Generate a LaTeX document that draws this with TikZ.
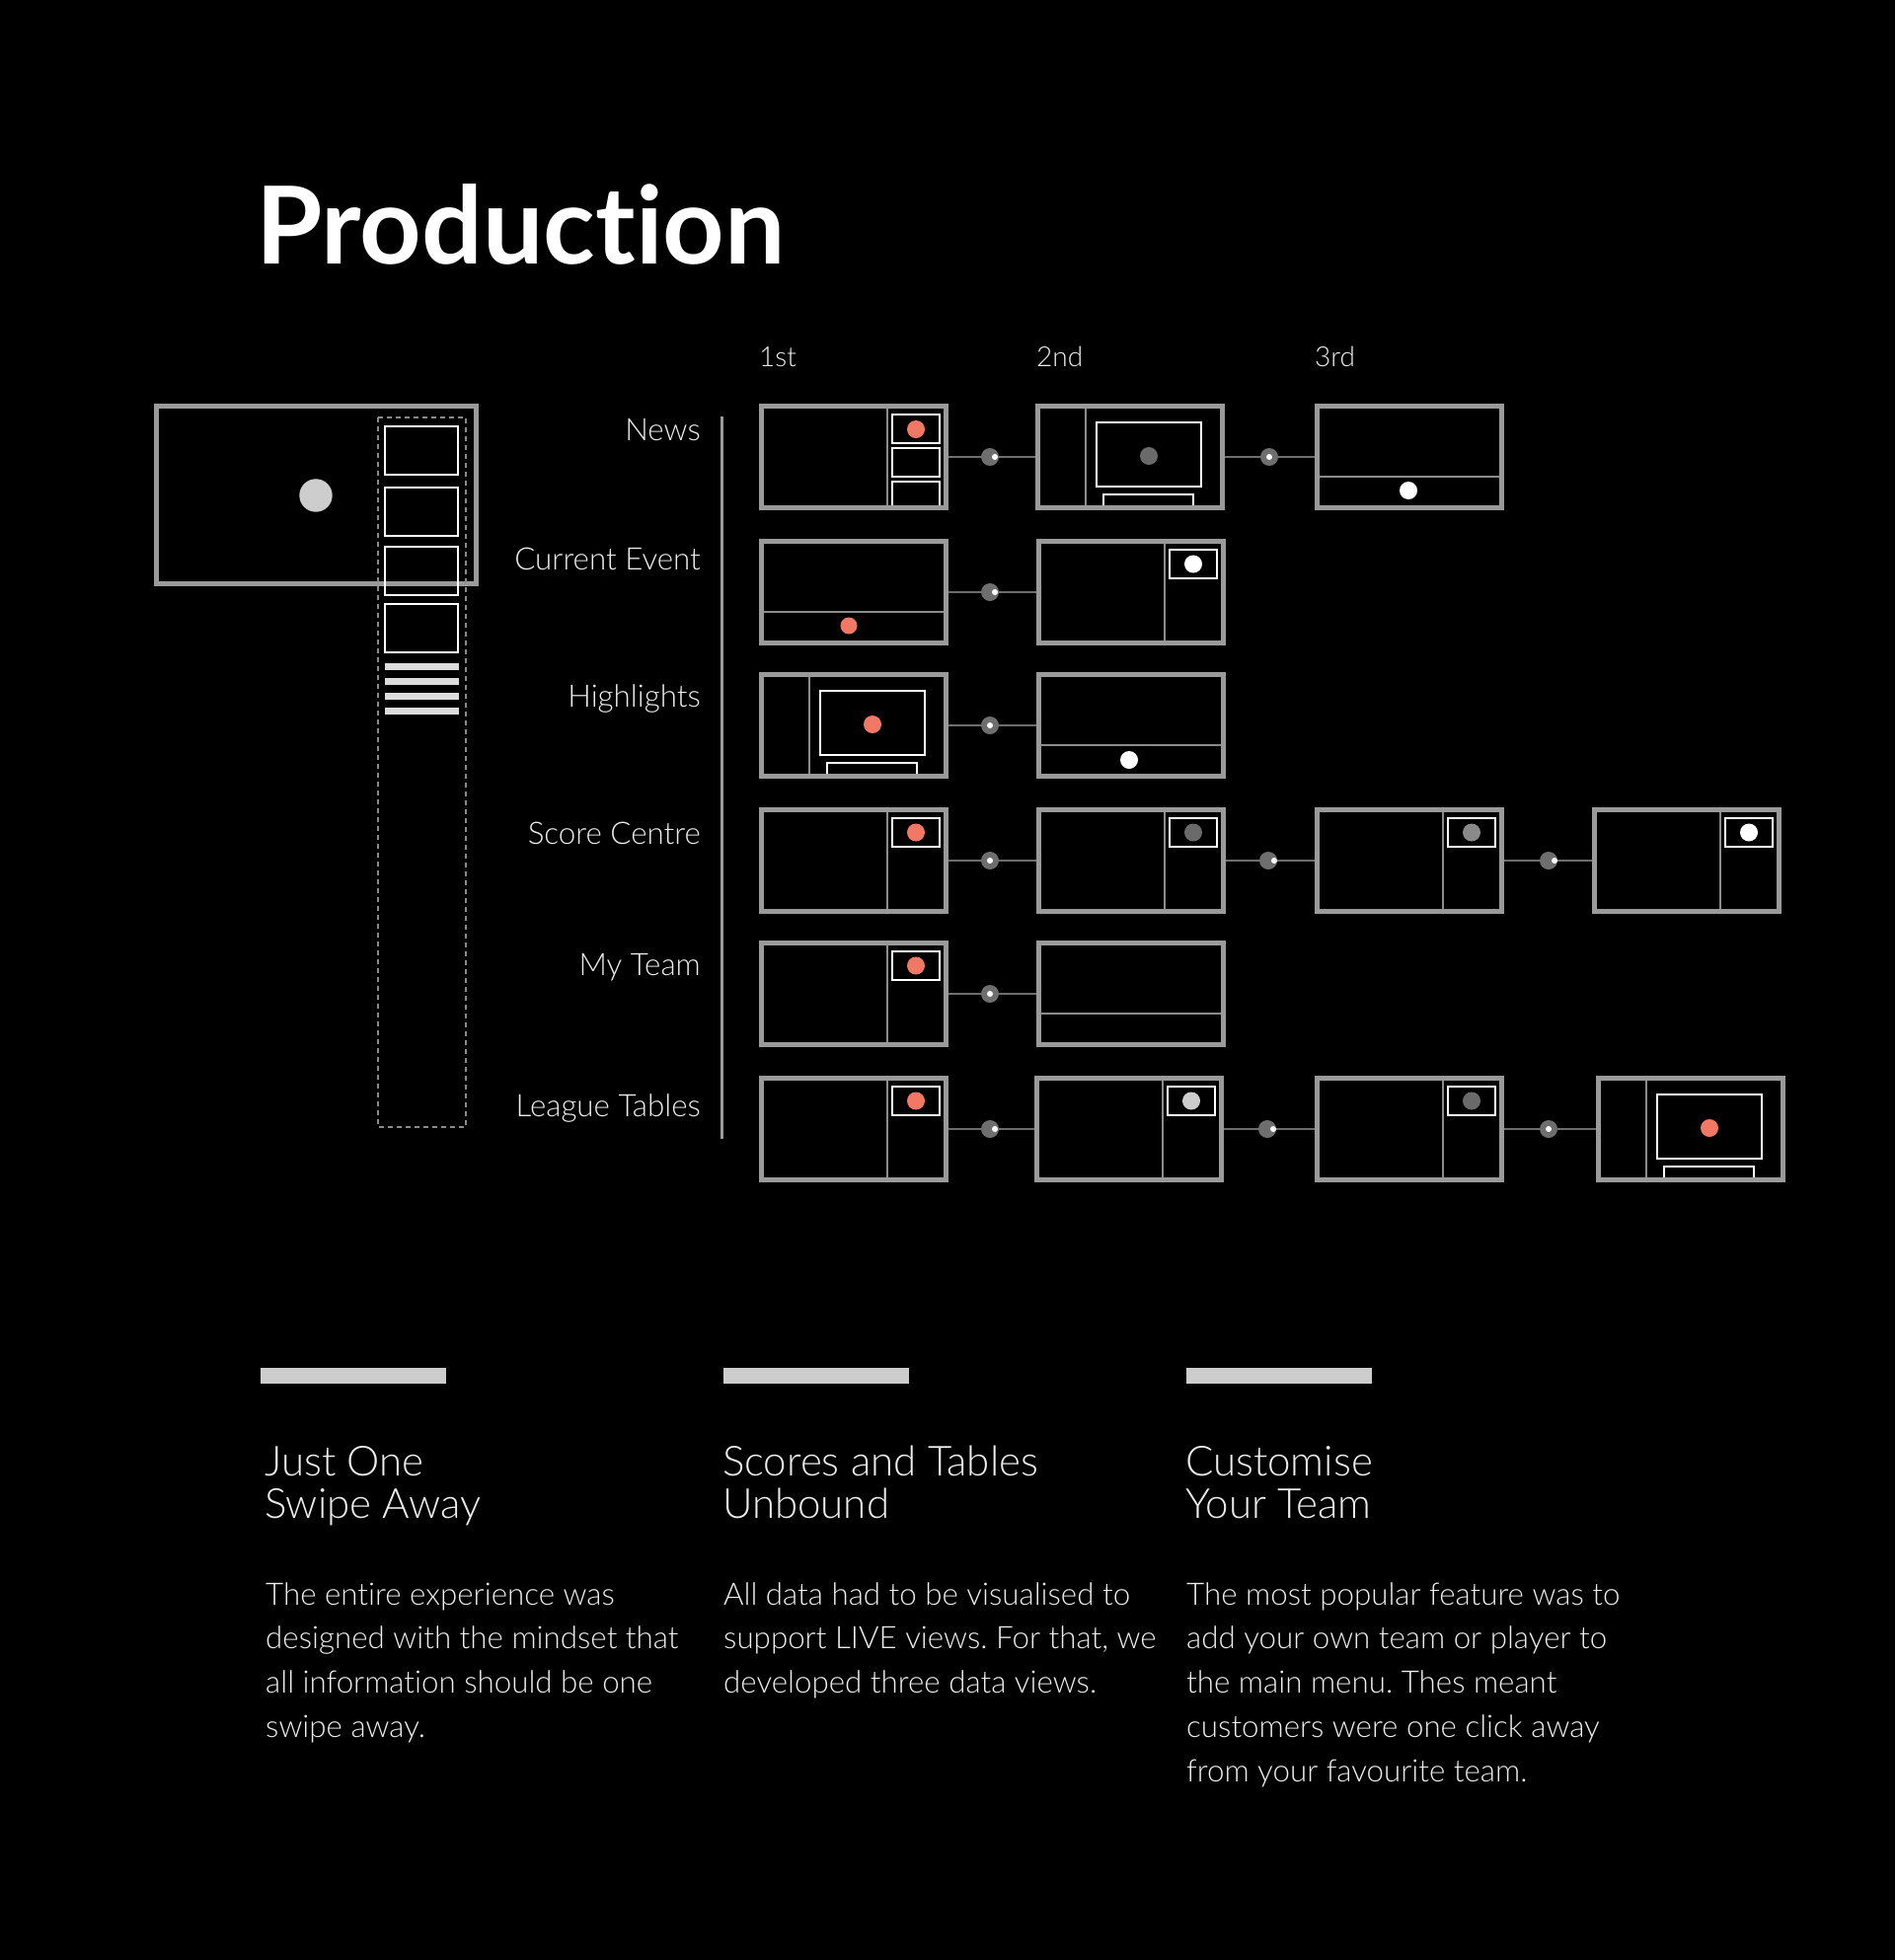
\documentclass[tikz,border=0pt]{standalone}
\usepackage{fontspec}
\setmainfont{Lato}[UprightFont=* Light, BoldFont=* Bold, Ligatures=NoCommon]
\frenchspacing
\definecolor{boxgray}{HTML}{9A9A9A}
\definecolor{divgray}{HTML}{8C8C8C}
\definecolor{conngray}{HTML}{6E6E6E}
\definecolor{accent}{HTML}{F07864}
\definecolor{dotdark}{HTML}{6A6A6A}
\definecolor{dotmid}{HTML}{8A8A8A}
\definecolor{dotlight}{HTML}{CDCDCD}
\definecolor{txt}{HTML}{EDEDED}
\definecolor{dashgray}{HTML}{8A8A8A}
\definecolor{barfill}{HTML}{DCDCDC}
\definecolor{sepgray}{HTML}{9A9A9A}
\tikzset{
  screen/.style={draw=boxgray, line width=5pt, minimum width=187pt, minimum height=103pt, inner sep=0pt, fill=black},
  divl/.style={draw=divgray, line width=1.5pt},
  wbox/.style={draw=white, line width=2pt},
  conn/.style={draw=conngray, line width=2pt},
  cdot/.style={circle, fill=conngray, minimum size=18pt, inner sep=0pt},
  lbl/.style={anchor=base east, text=txt, inner sep=0pt, font=\fontsize{31.3}{36}\selectfont},
  colhead/.style={anchor=base west, text=txt, inner sep=0pt, font=\fontsize{28}{34}\selectfont},
  heading/.style={anchor=base west, text=txt, inner sep=0pt, font=\fontsize{42}{46}\selectfont},
  body/.style={anchor=base west, text=txt, inner sep=0pt, font=\fontsize{31.3}{45}\selectfont},
}
% type A: divider + three stacked thumbnails
\newcommand\ScreenA[3]{%
  \node[screen] (#1) at ({#2+96},{#3+54}) {};
  \draw[divl] ({#2+130},{#3+5}) -- ({#2+130},{#3+103});
  \draw[wbox] ({#2+135},{#3+11}) rectangle ({#2+183},{#3+40});
  \draw[wbox] ({#2+135},{#3+45}) rectangle ({#2+183},{#3+74});
  \draw[wbox] ({#2+135},{#3+103}) -- ({#2+135},{#3+79}) -- ({#2+183},{#3+79}) -- ({#2+183},{#3+103});
  \fill[accent] ({#2+159},{#3+26}) circle (9pt);
}
% type B: sidebar + video frame + bar
\newcommand\ScreenB[4]{%
  \node[screen] (#1) at ({#2+96},{#3+54}) {};
  \draw[divl] ({#2+51},{#3+5}) -- ({#2+51},{#3+103});
  \draw[wbox] ({#2+62},{#3+19}) rectangle ({#2+168},{#3+84});
  \draw[wbox] ({#2+69},{#3+103}) -- ({#2+69},{#3+92}) -- ({#2+160},{#3+92}) -- ({#2+160},{#3+103});
  \fill[#4] ({#2+115},{#3+53}) circle (9pt);
}
% type C: bottom strip (dot optional)
\newcommand\ScreenC[3]{%
  \node[screen] (#1) at ({#2+96},{#3+54}) {};
  \draw[divl] ({#2+5},{#3+74}) -- ({#2+187},{#3+74});
}
% type D: divider + small framed dot
\newcommand\ScreenD[4]{%
  \node[screen] (#1) at ({#2+96},{#3+54}) {};
  \draw[divl] ({#2+130},{#3+5}) -- ({#2+130},{#3+103});
  \draw[wbox] ({#2+135},{#3+11}) rectangle ({#2+183},{#3+40});
  \fill[#4] ({#2+159},{#3+25.5}) circle (9pt);
}
% connector with dot at given x and inner dot offset
\newcommand\Link[5]{%
  \draw[conn] (#1) -- (#2);
  \node[cdot] (#3) at ({#4},0 |- #1.east) {};
  \fill[white] ([xshift=#5pt]#3.center) circle (3pt);
}
\begin{document}
\begin{tikzpicture}[x=1pt,y=-1pt]
\fill[black] (0,0) rectangle (1920,1986);
\useasboundingbox (0,0) rectangle (1920,1986);

% title
\node[anchor=base west, inner sep=0pt, text=white, font=\bfseries\fontsize{109}{124}\selectfont] (title) at (259,267) {Production};

% column headers
\node[colhead] (h1) at (769,371) {1st};
\node[colhead] (h2) at (1050,371) {2nd};
\node[colhead] (h3) at (1332,371) {3rd};

% left mockup
\draw[draw=boxgray, line width=5pt] (158.5,411.5) rectangle (482.5,591.5);
\fill[dotlight] (320,502) circle (16.7pt);
\draw[draw=dashgray, line width=1.5pt, dash pattern=on 5pt off 4pt] (383,423) rectangle (472,1142);
\draw[wbox] (390,432) rectangle (464,481);
\draw[wbox] (390,494) rectangle (464,543);
\draw[wbox] (390,554) rectangle (464,603);
\draw[wbox] (390,612) rectangle (464,661);
\fill[barfill] (390,671.5) rectangle (465,678.5);
\fill[barfill] (390,686.5) rectangle (465,693.5);
\fill[barfill] (390,701.5) rectangle (465,708.5);
\fill[barfill] (390,716.5) rectangle (465,723.5);

% row labels and separator
\node[lbl] (lNews) at (710,446) {News};
\node[lbl] (lCur) at (710,577) {Current Event};
\node[lbl] (lHigh) at (710,716) {Highlights};
\node[lbl] (lScore) at (710,855) {Score Centre};
\node[lbl] (lTeam) at (710,988) {My Team};
\node[lbl] (lLeague) at (710,1131) {League Tables};
\draw[draw=sepgray, line width=3pt] (731,422) -- (731,1154);

% News
\ScreenA{n1}{769}{409}
\ScreenB{n2}{1049}{409}{dotdark}
\ScreenC{n3}{1332}{409}
\fill[white] ({1332+95},{409+88}) circle (9pt);
% Current Event
\ScreenC{c1}{769}{546}
\fill[accent] ({769+91},{546+88}) circle (8.5pt);
\ScreenD{c2}{1050}{546}{white}
% Highlights
\ScreenB{g1}{769}{681}{accent}
\ScreenC{g2}{1050}{681}
\fill[white] ({1050+94},{681+89}) circle (9pt);
% Score Centre
\ScreenD{s1}{769}{818}{accent}
\ScreenD{s2}{1050}{818}{dotdark}
\ScreenD{s3}{1332}{818}{dotmid}
\ScreenD{s4}{1613}{818}{white}
% My Team
\ScreenD{m1}{769}{953}{accent}
\ScreenC{m2}{1050}{953}
% League Tables
\ScreenD{t1}{769}{1090}{accent}
\ScreenD{t2}{1048}{1090}{dotlight}
\ScreenD{t3}{1332}{1090}{dotdark}
\ScreenB{t4}{1617}{1090}{accent}

% connectors
\Link{n1}{n2}{dn1}{1003}{5}
\Link{n2}{n3}{dn2}{1286}{0}
\Link{c1}{c2}{dc1}{1003}{5}
\Link{g1}{g2}{dg1}{1003}{0}
\Link{s1}{s2}{ds1}{1003}{0}
\Link{s2}{s3}{ds2}{1285}{6}
\Link{s3}{s4}{ds3}{1569}{6}
\Link{m1}{m2}{dm1}{1003}{0}
\Link{t1}{t2}{dt1}{1003}{5}
\Link{t2}{t3}{dt2}{1284}{6}
\Link{t3}{t4}{dt3}{1569}{0}

% bottom bars
\fill[dotlight] (264,1386) rectangle (452,1402);
\fill[dotlight] (733,1386) rectangle (921,1402);
\fill[dotlight] (1202,1386) rectangle (1390,1402);

% column 1
\node[heading] (a1) at (268,1495) {Just One};
\node[heading] (a2) at (268,1538) {Swipe Away};
\node[body] (a3) at (269,1626) {The entire experience was};
\node[body] (a4) at (269,1670) {designed with the mindset that};
\node[body] (a5) at (269,1715) {all information should be one};
\node[body] (a6) at (269,1760) {swipe away.};
% column 2
\node[heading] (b1) at (732,1495) {Scores and Tables};
\node[heading] (b2) at (732,1538) {Unbound};
\node[body] (b3) at (733,1626) {All data had to be visualised to};
\node[body] (b4) at (733,1670) {support LIVE views. For that, we};
\node[body] (b5) at (733,1715) {developed three data views.};
% column 3
\node[heading] (e1) at (1201,1495) {Customise};
\node[heading] (e2) at (1201,1538) {Your Team};
\node[body] (e3) at (1202,1626) {The most popular feature was to};
\node[body] (e4) at (1202,1670) {add your own team or player to};
\node[body] (e5) at (1202,1715) {the main menu. Thes meant};
\node[body] (e6) at (1202,1760) {customers were one click away};
\node[body] (e7) at (1202,1805) {from your favourite team.};
\end{tikzpicture}
\end{document}
